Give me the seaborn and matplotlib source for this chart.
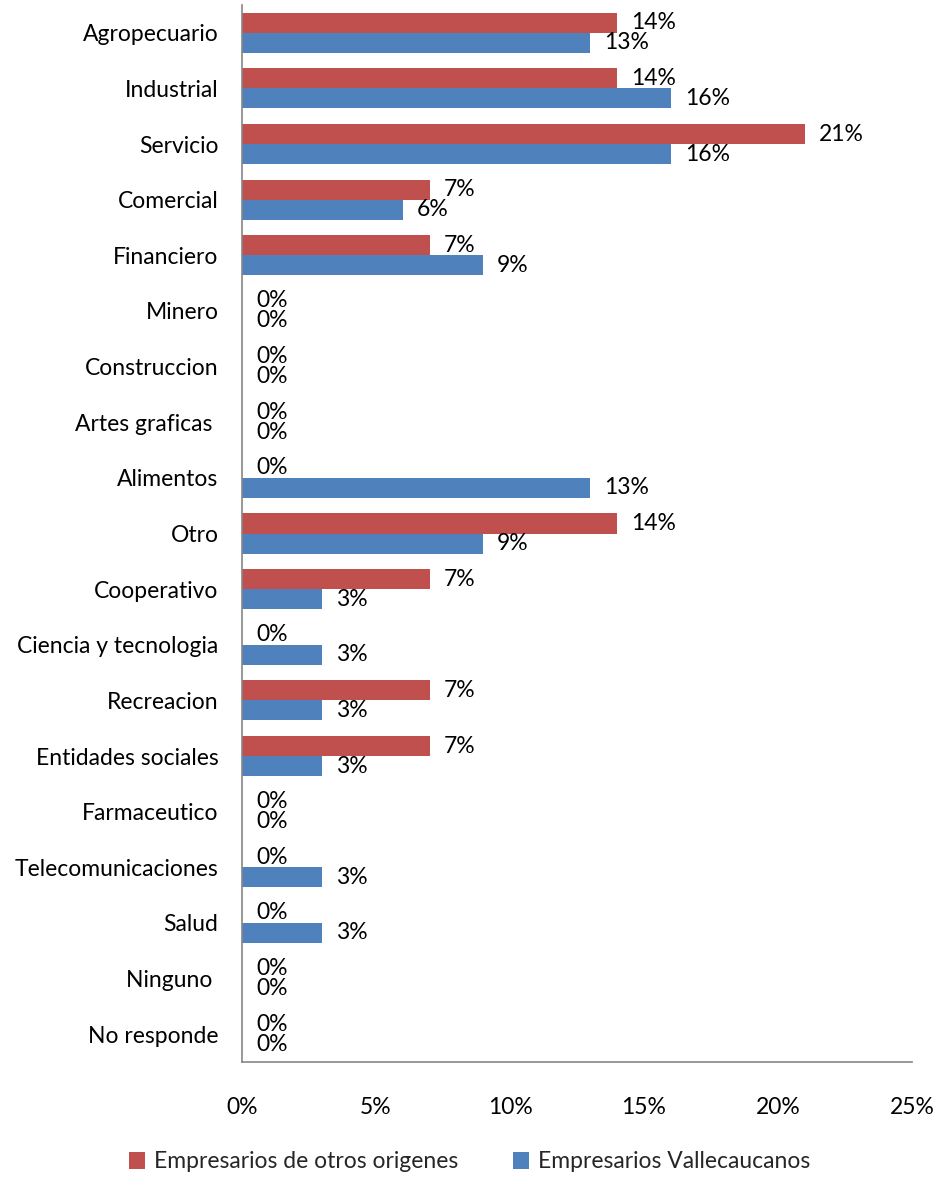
import matplotlib
matplotlib.use("Agg")
import matplotlib.pyplot as plt
import seaborn as sns
import pandas as pd
from matplotlib.ticker import FuncFormatter

categories = ["Agropecuario", "Industrial", "Servicio", "Comercial", "Financiero",
              "Minero", "Construccion", "Artes graficas ", "Alimentos", "Otro",
              "Cooperativo", "Ciencia y tecnologia", "Recreacion", "Entidades sociales",
              "Farmaceutico", "Telecomunicaciones", "Salud", "Ninguno ", "No responde"]
otros = [14, 14, 21, 7, 7, 0, 0, 0, 0, 14, 7, 0, 7, 7, 0, 0, 0, 0, 0]
valle = [13, 16, 16, 6, 9, 0, 0, 0, 13, 9, 3, 3, 3, 3, 0, 3, 3, 0, 0]
series_names = ["Empresarios de otros origenes", "Empresarios Vallecaucanos"]
x_ticks = [0, 5, 10, 15, 20, 25]

df = pd.DataFrame({
    "Sector": categories * 2,
    "Valor": otros + valle,
    "Grupo": [series_names[0]] * len(categories) + [series_names[1]] * len(categories),
})

sns.set_theme(style="white")
plt.rcParams["font.family"] = ["Lato", "DejaVu Sans"]
FS = 16.5

fig = plt.figure(figsize=(9.39, 11.85), dpi=100)
ax = fig.add_axes([242/939, 1 - 1062/1185, (912-242)/939, (1062-5)/1185])

palette = {series_names[0]: "#C0504D", series_names[1]: "#4F81BD"}
sns.barplot(data=df, y="Sector", x="Valor", hue="Grupo", hue_order=series_names,
            order=categories, palette=palette, orient="h", width=0.72,
            saturation=1, ax=ax, legend=True, linewidth=0, edgecolor="none")

for cont in ax.containers:
    ax.bar_label(cont, fmt="%d%%", padding=10, fontsize=FS, color="black")

ax.set_xlim(0, 25)
ax.set_xticks(x_ticks)
ax.xaxis.set_major_formatter(FuncFormatter(lambda v, p: f"{int(v)}%"))
ax.set_xlabel("")
ax.set_ylabel("")
ax.tick_params(axis="both", length=0, labelsize=FS, colors="black")
ax.tick_params(axis="x", pad=25)
ax.tick_params(axis="y", pad=17)
for s in ["top", "right"]:
    ax.spines[s].set_visible(False)
for s in ["left", "bottom"]:
    ax.spines[s].set_color("#868686")
    ax.spines[s].set_linewidth(1.2)

handles, labels = ax.get_legend_handles_labels()
ax.get_legend().remove()
fig.legend(handles, labels, loc="center", bbox_to_anchor=(0.5, 1 - 1162/1185),
           ncol=2, frameon=False, fontsize=FS, handlelength=0.7, handleheight=0.7,
           handletextpad=0.4, columnspacing=2.4)

fig.savefig("out.png", dpi=100, facecolor="white")
